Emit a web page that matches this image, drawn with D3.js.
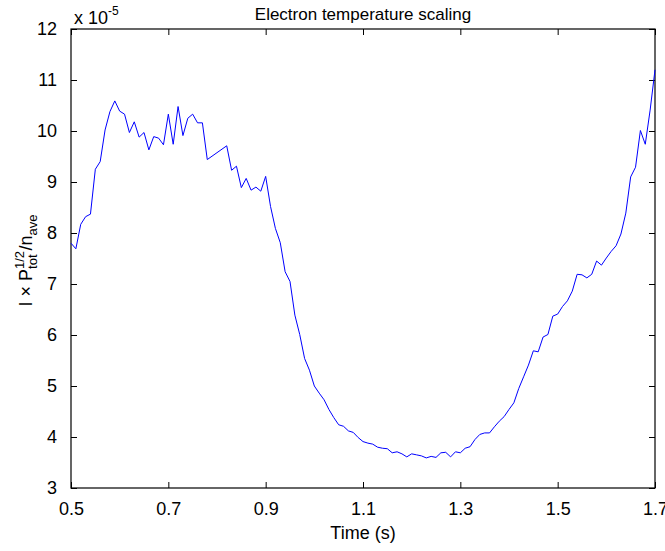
<!DOCTYPE html>
<html>
<head>
<meta charset="utf-8">
<script src="https://cdn.jsdelivr.net/npm/d3@7"></script>
<style>
  body { margin: 0; background: #fff; }
  text { font-family: "Liberation Sans", Arial, Helvetica, sans-serif; fill: #000; }
</style>
</head>
<body>
<script>
const w = 665;
const h = 551;

// time samples (s); gap between 0.78 and 0.82 as in the source trace
const times = [
  0.50, 0.51, 0.52, 0.53, 0.54, 0.55, 0.56, 0.57, 0.58, 0.59,
  0.60, 0.61, 0.62, 0.63, 0.64, 0.65, 0.66, 0.67, 0.68, 0.69,
  0.70, 0.71, 0.72, 0.73, 0.74, 0.75, 0.76, 0.77, 0.78,
  0.82, 0.83, 0.84, 0.85, 0.86, 0.87, 0.88, 0.89,
  0.90, 0.91, 0.92, 0.93, 0.94, 0.95, 0.96, 0.97, 0.98, 0.99,
  1.00, 1.01, 1.02, 1.03, 1.04, 1.05, 1.06, 1.07, 1.08, 1.09,
  1.10, 1.11, 1.12, 1.13, 1.14, 1.15, 1.16, 1.17, 1.18, 1.19,
  1.20, 1.21, 1.22, 1.23, 1.24, 1.25, 1.26, 1.27, 1.28, 1.29,
  1.30, 1.31, 1.32, 1.33, 1.34, 1.35, 1.36, 1.37, 1.38, 1.39,
  1.40, 1.41, 1.42, 1.43, 1.44, 1.45, 1.46, 1.47, 1.48, 1.49,
  1.50, 1.51, 1.52, 1.53, 1.54, 1.55, 1.56, 1.57, 1.58, 1.59,
  1.60, 1.61, 1.62, 1.63, 1.64, 1.65, 1.66, 1.67, 1.68, 1.69,
  1.70
];

// I x P_tot^(1/2) / n_ave, in units of 1e-5
const scaling = [
  7.80, 7.69, 8.17, 8.32, 8.37, 9.25, 9.40, 10.02, 10.38, 10.59,
  10.39, 10.33, 9.97, 10.18, 9.88, 9.97, 9.63, 9.89, 9.86, 9.73,
  10.33, 9.74, 10.48, 9.91, 10.25, 10.33, 10.16, 10.16, 9.44,
  9.71, 9.23, 9.31, 8.89, 9.07, 8.84, 8.90, 8.82,
  9.11, 8.52, 8.09, 7.81, 7.24, 7.05, 6.39, 6.01, 5.54, 5.31,
  5.00, 4.86, 4.73, 4.54, 4.38, 4.24, 4.21, 4.12, 4.09, 3.99,
  3.91, 3.88, 3.86, 3.80, 3.78, 3.77, 3.69, 3.71, 3.67, 3.61,
  3.67, 3.65, 3.63, 3.59, 3.62, 3.60, 3.69, 3.70, 3.61, 3.71,
  3.69, 3.78, 3.81, 3.95, 4.05, 4.08, 4.08, 4.20, 4.31, 4.40,
  4.54, 4.67, 4.95, 5.18, 5.41, 5.69, 5.67, 5.96, 6.01, 6.37,
  6.41, 6.56, 6.67, 6.86, 7.19, 7.18, 7.12, 7.19, 7.45, 7.37,
  7.51, 7.64, 7.75, 7.98, 8.39, 9.10, 9.29, 10.01, 9.74, 10.41,
  11.20
];

const xTicks = [0.5, 0.7, 0.9, 1.1, 1.3, 1.5, 1.7];
const xTickLabels = ["0.5", "0.7", "0.9", "1.1", "1.3", "1.5", "1.7"];
const yTicks = [3, 4, 5, 6, 7, 8, 9, 10, 11, 12];

const m = {left: 71, right: 655, top: 29, bottom: 488};

const svg = d3.select("body")
              .append("svg")
              .attr("width", w)
              .attr("height", h);

const xScale = d3.scaleLinear()
      .domain([0.5, 1.7])
      .range([m.left, m.right]);

const yScale = d3.scaleLinear()
      .domain([3, 12])
      .range([m.bottom, m.top]);

const tickLen = 6;

// bottom axis with labels
svg.append("g")
      .attr("transform", "translate(0," + m.bottom + ")")
      .call(d3.axisBottom(xScale)
        .tickValues(xTicks)
        .tickFormat((d, i) => xTickLabels[i])
        .tickSizeInner(-tickLen)
        .tickSizeOuter(0)
        .tickPadding(14))
      .call(g => g.select(".domain").remove())
      .call(g => g.selectAll("text").attr("font-size", 18).attr("font-family", null));

// top axis, ticks only
svg.append("g")
      .attr("transform", "translate(0," + m.top + ")")
      .call(d3.axisTop(xScale)
        .tickValues(xTicks)
        .tickFormat("")
        .tickSizeInner(-tickLen)
        .tickSizeOuter(0))
      .call(g => g.select(".domain").remove());

// left axis with labels
svg.append("g")
      .attr("transform", "translate(" + m.left + ",0)")
      .call(d3.axisLeft(yScale)
        .tickValues(yTicks)
        .tickFormat(d3.format("d"))
        .tickSizeInner(-tickLen)
        .tickSizeOuter(0)
        .tickPadding(14))
      .call(g => g.select(".domain").remove())
      .call(g => g.selectAll("text").attr("font-size", 18).attr("font-family", null));

// right axis, ticks only
svg.append("g")
      .attr("transform", "translate(" + m.right + ",0)")
      .call(d3.axisRight(yScale)
        .tickValues(yTicks)
        .tickFormat("")
        .tickSizeInner(-tickLen)
        .tickSizeOuter(0))
      .call(g => g.select(".domain").remove());

// box
svg.append("rect")
      .attr("x", m.left)
      .attr("y", m.top)
      .attr("width", m.right - m.left)
      .attr("height", m.bottom - m.top)
      .attr("fill", "none")
      .attr("stroke", "#000")
      .attr("stroke-width", 1.2);

const series = times.map((t, i) => [t, scaling[i]]);

svg.append("path")
      .datum(series)
      .attr("fill", "none")
      .attr("stroke", "#0000ff")
      .attr("stroke-width", 1)
      .attr("d", d3.line()
        .x(d => xScale(d[0]))
        .y(d => yScale(d[1]))
      );

// title
svg.append("text")
      .attr("x", (m.left + m.right) / 2)
      .attr("y", 20)
      .attr("text-anchor", "middle")
      .attr("font-size", 17)
      .text("Electron temperature scaling");

// exponent
const expo = svg.append("text")
      .attr("x", 74)
      .attr("y", 24)
      .attr("font-size", 18);
expo.append("tspan").text("x 10");
expo.append("tspan").attr("font-size", 12).attr("dy", -9).text("-5");

// x label
svg.append("text")
      .attr("x", (m.left + m.right) / 2)
      .attr("y", 539)
      .attr("text-anchor", "middle")
      .attr("font-size", 18)
      .text("Time (s)");

// y label
const yl = svg.append("text")
      .attr("transform", "translate(32," + ((m.top + m.bottom) / 2 + 2) + ") rotate(-90)")
      .attr("text-anchor", "middle")
      .attr("font-size", 18);
yl.append("tspan").text("I \u00d7 P");
yl.append("tspan").attr("font-size", 13).attr("dy", -8).text("1/2");
yl.append("tspan").attr("font-size", 13).attr("dy", 13).attr("dx", -18).text("tot");
yl.append("tspan").attr("dy", -5).attr("dx", 4).text("/n");
yl.append("tspan").attr("font-size", 13).attr("dy", 5).text("ave");
</script>
</body>
</html>
